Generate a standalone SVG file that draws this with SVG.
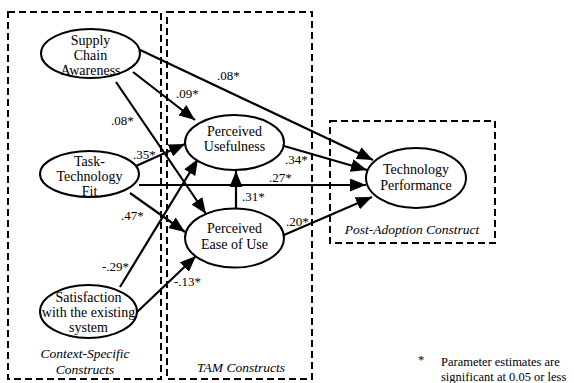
<svg xmlns="http://www.w3.org/2000/svg" width="574" height="383" viewBox="0 0 574 383">
<style>
.box{fill:none;stroke:#000;stroke-width:2;stroke-dasharray:7,4}
.node ellipse{fill:#fff;stroke:#000;stroke-width:2}
text{font-family:"Liberation Serif","Times New Roman",serif;fill:#000}
.nt{font-size:14px;text-anchor:middle}
.lb{font-size:13px}
.it{font-size:13.5px;font-style:italic;text-anchor:middle}
.fn{font-size:12.5px}
#connectors line{stroke:#000;stroke-width:2.2;marker-end:url(#ah)}
</style>
<defs>
<marker id="ah" viewBox="0 0 16 13" refX="16" refY="6.5" markerWidth="16" markerHeight="13" markerUnits="userSpaceOnUse" orient="auto">
<path d="M0,0 L16,6.5 L0,13 Z" fill="#000"/>
</marker>
</defs>
<rect fill="#fff" width="574" height="383"/>
<g id="groups">
<rect class="box" x="8" y="12" width="153" height="367"/>
<rect class="box" x="167" y="12" width="145" height="367"/>
<rect class="box" x="330" y="121" width="165" height="122"/>
<text class="it" x="85" y="358">Context-Specific</text>
<text class="it" x="85" y="374">Constructs</text>
<text class="it" x="241" y="372">TAM Constructs</text>
<text class="it" x="412" y="234">Post-Adoption Construct</text>
</g>
<g id="connectors">
<line x1="136" y1="48" x2="373" y2="160"/>
<line x1="133" y1="72" x2="195" y2="120"/>
<line x1="116" y1="82" x2="206" y2="214"/>
<line x1="136" y1="166" x2="185" y2="144"/>
<line x1="139" y1="185" x2="366" y2="185"/>
<line x1="130" y1="193" x2="185" y2="232"/>
<line x1="120" y1="287" x2="198" y2="159"/>
<line x1="136" y1="313" x2="196" y2="256"/>
<line x1="236" y1="209" x2="236" y2="171"/>
<line x1="284" y1="146" x2="367" y2="170"/>
<line x1="284" y1="235" x2="372" y2="197"/>
<text class="lb" x="217" y="80">.08*</text>
<text class="lb" x="176" y="98">.09*</text>
<text class="lb" x="111" y="125">.08*</text>
<text class="lb" x="133" y="159">.35*</text>
<text class="lb" x="269" y="182">.27*</text>
<text class="lb" x="121" y="220">.47*</text>
<text class="lb" x="102" y="271">-.29*</text>
<text class="lb" x="174" y="286">-.13*</text>
<text class="lb" x="242" y="201">.31*</text>
<text class="lb" x="285" y="164">.34*</text>
<text class="lb" x="286" y="226">.20*</text>
</g>
<g id="sca" class="node">
<ellipse cx="90.5" cy="53.5" rx="49.5" ry="24.5"/>
<text class="nt" x="90.5" y="45">Supply</text>
<text class="nt" x="90.5" y="60">Chain</text>
<text class="nt" x="90.5" y="75">Awareness</text>
</g>
<g id="ttf" class="node">
<ellipse cx="89.5" cy="174" rx="49.5" ry="23"/>
<text class="nt" x="89.5" y="166">Task-</text>
<text class="nt" x="89.5" y="181">Technology</text>
<text class="nt" x="89.5" y="196">Fit</text>
</g>
<g id="sat" class="node">
<ellipse cx="88.5" cy="311.5" rx="48.5" ry="26.5"/>
<text class="nt" x="88.5" y="302">Satisfaction</text>
<text class="nt" x="88.5" y="317">with the existing</text>
<text class="nt" x="88.5" y="332">system</text>
</g>
<g id="pu" class="node">
<ellipse cx="234.5" cy="142.5" rx="49.5" ry="27.5"/>
<text class="nt" x="234.5" y="136">Perceived</text>
<text class="nt" x="234.5" y="151">Usefulness</text>
</g>
<g id="peou" class="node">
<ellipse cx="234.5" cy="238" rx="49.5" ry="29.5"/>
<text class="nt" x="234.5" y="233">Perceived</text>
<text class="nt" x="234.5" y="249">Ease of Use</text>
</g>
<g id="tp" class="node">
<ellipse cx="416" cy="178" rx="50" ry="30"/>
<text class="nt" x="416" y="174">Technology</text>
<text class="nt" x="416" y="190">Performance</text>
</g>
<g id="footnote">
<text class="fn" x="418" y="364">*</text>
<text class="fn" x="441" y="366">Parameter estimates are</text>
<text class="fn" x="441" y="381">significant at 0.05 or less</text>
</g>
</svg>
